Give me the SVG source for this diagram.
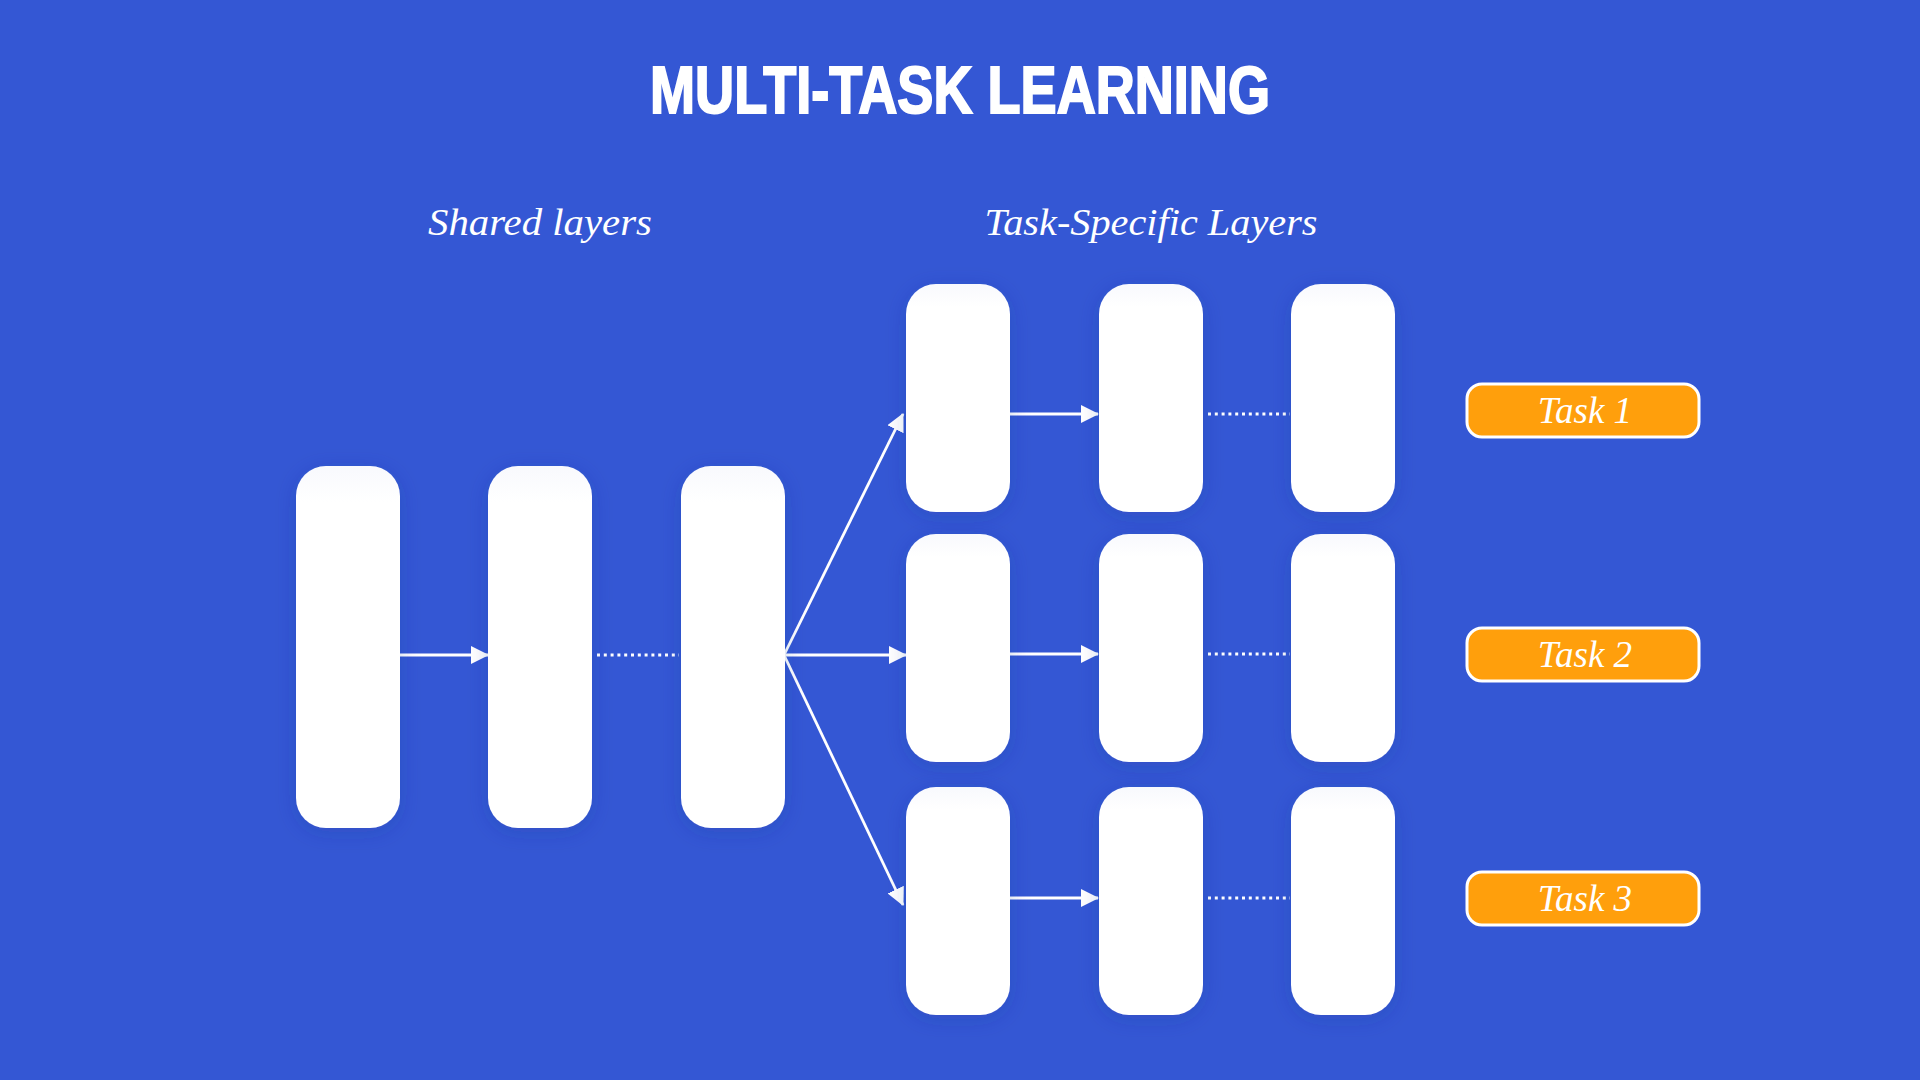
<svg xmlns="http://www.w3.org/2000/svg" width="1920" height="1080" viewBox="0 0 1920 1080">
  <defs>
    <filter id="sh" x="-40%" y="-20%" width="180%" height="140%">
      <feDropShadow dx="0" dy="4" stdDeviation="10" flood-color="#1b2f8f" flood-opacity="0.22"/>
    </filter>
    <linearGradient id="wg" x1="0" y1="0" x2="0" y2="1">
      <stop offset="0" stop-color="#f8f9fd"/>
      <stop offset="0.1" stop-color="#ffffff"/>
      <stop offset="1" stop-color="#ffffff"/>
    </linearGradient>
    <marker id="ah" markerUnits="userSpaceOnUse" markerWidth="18" markerHeight="18" viewBox="0 0 18 18" refX="17" refY="9" orient="auto">
      <path d="M0,0 L18,9 L0,18 z" fill="#ffffff"/>
    </marker>
    <style>
      .layer { fill: url(#wg); filter: url(#sh); }
      .arrow { stroke: #ffffff; stroke-width: 2.8; fill: none; marker-end: url(#ah); }
      .dots { stroke: #ffffff; stroke-width: 3; fill: none; stroke-dasharray: 3 3.8; }
      .task { fill: #ff9f0c; stroke: #ffffff; stroke-width: 3; }
      .tasktxt { font-family: "Liberation Serif", "DejaVu Serif", serif; font-style: italic; font-size: 37px; fill: #ffffff; text-anchor: middle; }
      .hdr { font-family: "Liberation Serif", "DejaVu Serif", serif; font-style: italic; font-size: 38px; fill: #ffffff; text-anchor: middle; }
      .title { font-family: "Liberation Sans Narrow", "Liberation Sans", "DejaVu Sans", sans-serif; font-weight: bold; font-size: 67px; fill: #ffffff; stroke: #ffffff; stroke-width: 2; stroke-linejoin: miter; text-anchor: middle; }
    </style>
  </defs>

  <rect x="0" y="0" width="1920" height="1080" fill="#3457d4"/>

  <text class="title" x="960" y="113" textLength="620" lengthAdjust="spacingAndGlyphs">MULTI-TASK LEARNING</text>
  <text class="hdr" x="540" y="235" textLength="224" lengthAdjust="spacingAndGlyphs">Shared layers</text>
  <text class="hdr" x="1151" y="235" textLength="333" lengthAdjust="spacingAndGlyphs">Task-Specific Layers</text>

  <g id="connectors">
    <line class="arrow" x1="400" y1="655" x2="488" y2="655"/>
    <line class="dots" x1="597" y1="655" x2="679" y2="655"/>
    <line class="arrow" x1="784" y1="655" x2="903" y2="414"/>
    <line class="arrow" x1="784" y1="655" x2="906" y2="655"/>
    <line class="arrow" x1="784" y1="655" x2="903" y2="905"/>
    <line class="arrow" x1="1010" y1="414" x2="1098" y2="414"/>
    <line class="arrow" x1="1010" y1="654" x2="1098" y2="654"/>
    <line class="arrow" x1="1010" y1="898" x2="1098" y2="898"/>
    <line class="dots" x1="1208" y1="414" x2="1290" y2="414"/>
    <line class="dots" x1="1208" y1="654" x2="1290" y2="654"/>
    <line class="dots" x1="1208" y1="898" x2="1290" y2="898"/>
  </g>

  <g id="shared-1"><rect class="layer" x="296" y="466" width="104" height="362" rx="30"/></g>
  <g id="shared-2"><rect class="layer" x="488" y="466" width="104" height="362" rx="30"/></g>
  <g id="shared-3"><rect class="layer" x="681" y="466" width="104" height="362" rx="30"/></g>

  <g id="t1-l1"><rect class="layer" x="906" y="284" width="104" height="228" rx="30"/></g>
  <g id="t1-l2"><rect class="layer" x="1099" y="284" width="104" height="228" rx="30"/></g>
  <g id="t1-l3"><rect class="layer" x="1291" y="284" width="104" height="228" rx="30"/></g>

  <g id="t2-l1"><rect class="layer" x="906" y="534" width="104" height="228" rx="30"/></g>
  <g id="t2-l2"><rect class="layer" x="1099" y="534" width="104" height="228" rx="30"/></g>
  <g id="t2-l3"><rect class="layer" x="1291" y="534" width="104" height="228" rx="30"/></g>

  <g id="t3-l1"><rect class="layer" x="906" y="787" width="104" height="228" rx="30"/></g>
  <g id="t3-l2"><rect class="layer" x="1099" y="787" width="104" height="228" rx="30"/></g>
  <g id="t3-l3"><rect class="layer" x="1291" y="787" width="104" height="228" rx="30"/></g>

  <g id="task-1">
    <rect class="task" x="1467" y="384" width="232" height="53" rx="15"/>
    <text class="tasktxt" x="1585" y="423">Task 1</text>
  </g>
  <g id="task-2">
    <rect class="task" x="1467" y="628" width="232" height="53" rx="15"/>
    <text class="tasktxt" x="1585" y="667">Task 2</text>
  </g>
  <g id="task-3">
    <rect class="task" x="1467" y="872" width="232" height="53" rx="15"/>
    <text class="tasktxt" x="1585" y="911">Task 3</text>
  </g>
</svg>
